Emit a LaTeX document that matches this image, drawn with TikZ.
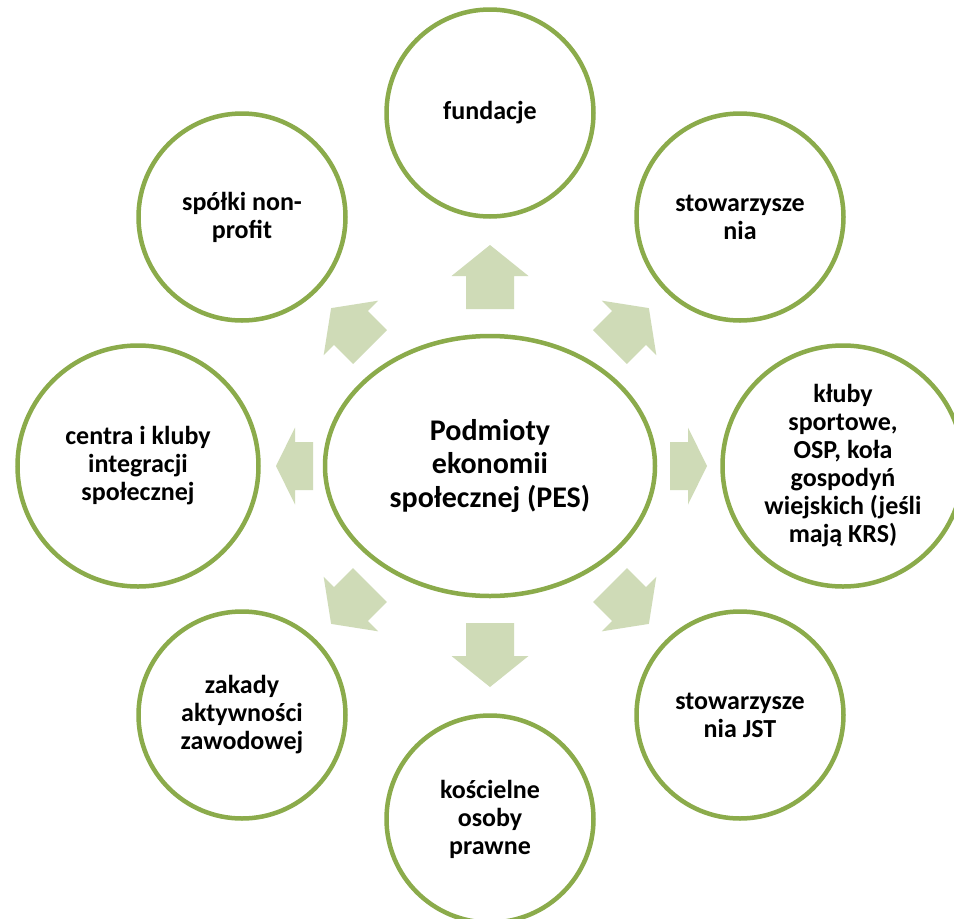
\documentclass[tikz,border=0pt]{standalone}
\usepackage{fontspec}
\setmainfont{Carlito}
\usetikzlibrary{shapes.geometric}
\definecolor{ringgreen}{HTML}{8BAB4B}
\definecolor{arrowgreen}{HTML}{CFDBB7}
\tikzset{
  ring/.style={circle, draw=ringgreen, line width=4.5pt, fill=white, inner sep=0pt,
    align=center, font=\fontsize{26}{28}\selectfont\bfseries, text=black},
  smallring/.style={ring, minimum size=207pt},
  bigring/.style={ring, minimum size=241pt},
  hub/.style={ellipse, draw=ringgreen, line width=4.5pt, fill=white, inner sep=0pt,
    minimum width=330pt, minimum height=260pt, align=center,
    font=\fontsize{30}{33.5}\selectfont\bfseries, text=black},
  blockfill/.style={fill=arrowgreen}
}
\newcommand{\blockarrow}[5]{%
  \fill[blockfill, shift={(#1,#2)}, rotate=#3]
    (0,-24) -- ({#4-#5},-24) -- ({#4-#5},-38.5) -- (#4,0) -- ({#4-#5},38.5) -- ({#4-#5},24) -- (0,24) -- cycle;}
\begin{document}
\begin{tikzpicture}[x=1pt,y=-1pt]
\useasboundingbox (0,0) rectangle (954,919);
\fill[white] (0,0) rectangle (954,919);
% block arrows
\blockarrow{490}{309}{90}{64}{31}
\blockarrow{490}{623}{-90}{64}{31}
\blockarrow{670}{466}{0}{37}{19}
\blockarrow{313}{466}{180}{37}{19}
\blockarrow{610}{347}{45}{55}{28}
\blockarrow{370}{347}{135}{55}{28}
\blockarrow{610}{585}{-45}{55}{28}
\blockarrow{370}{585}{-135}{55}{28}
% hub
\node[hub] (pes) at (490,466) {Podmioty\\ekonomii\\społecznej (PES)};
% satellites
\node[smallring] (fund) at (490,113) {fundacje};
\node[smallring] (spolki) at (242,217) {spółki non-\\profit};
\node[smallring] (stow) at (740,217) {stowarzysze\\nia};
\node[bigring] (centra) at (138,466) {centra i kluby\\integracji\\społecznej};
\node[bigring] (kluby) at (843,466) {kłuby\\sportowe,\\OSP, koła\\gospodyń\\wiejskich (jeśli\\mają KRS)};
\node[smallring] (zak) at (242,715) {zakady\\aktywności\\zawodowej};
\node[smallring] (kosc) at (490,819) {kościelne\\osoby\\prawne};
\node[smallring] (jst) at (740,715) {stowarzysze\\nia JST};
\end{tikzpicture}
\end{document}
